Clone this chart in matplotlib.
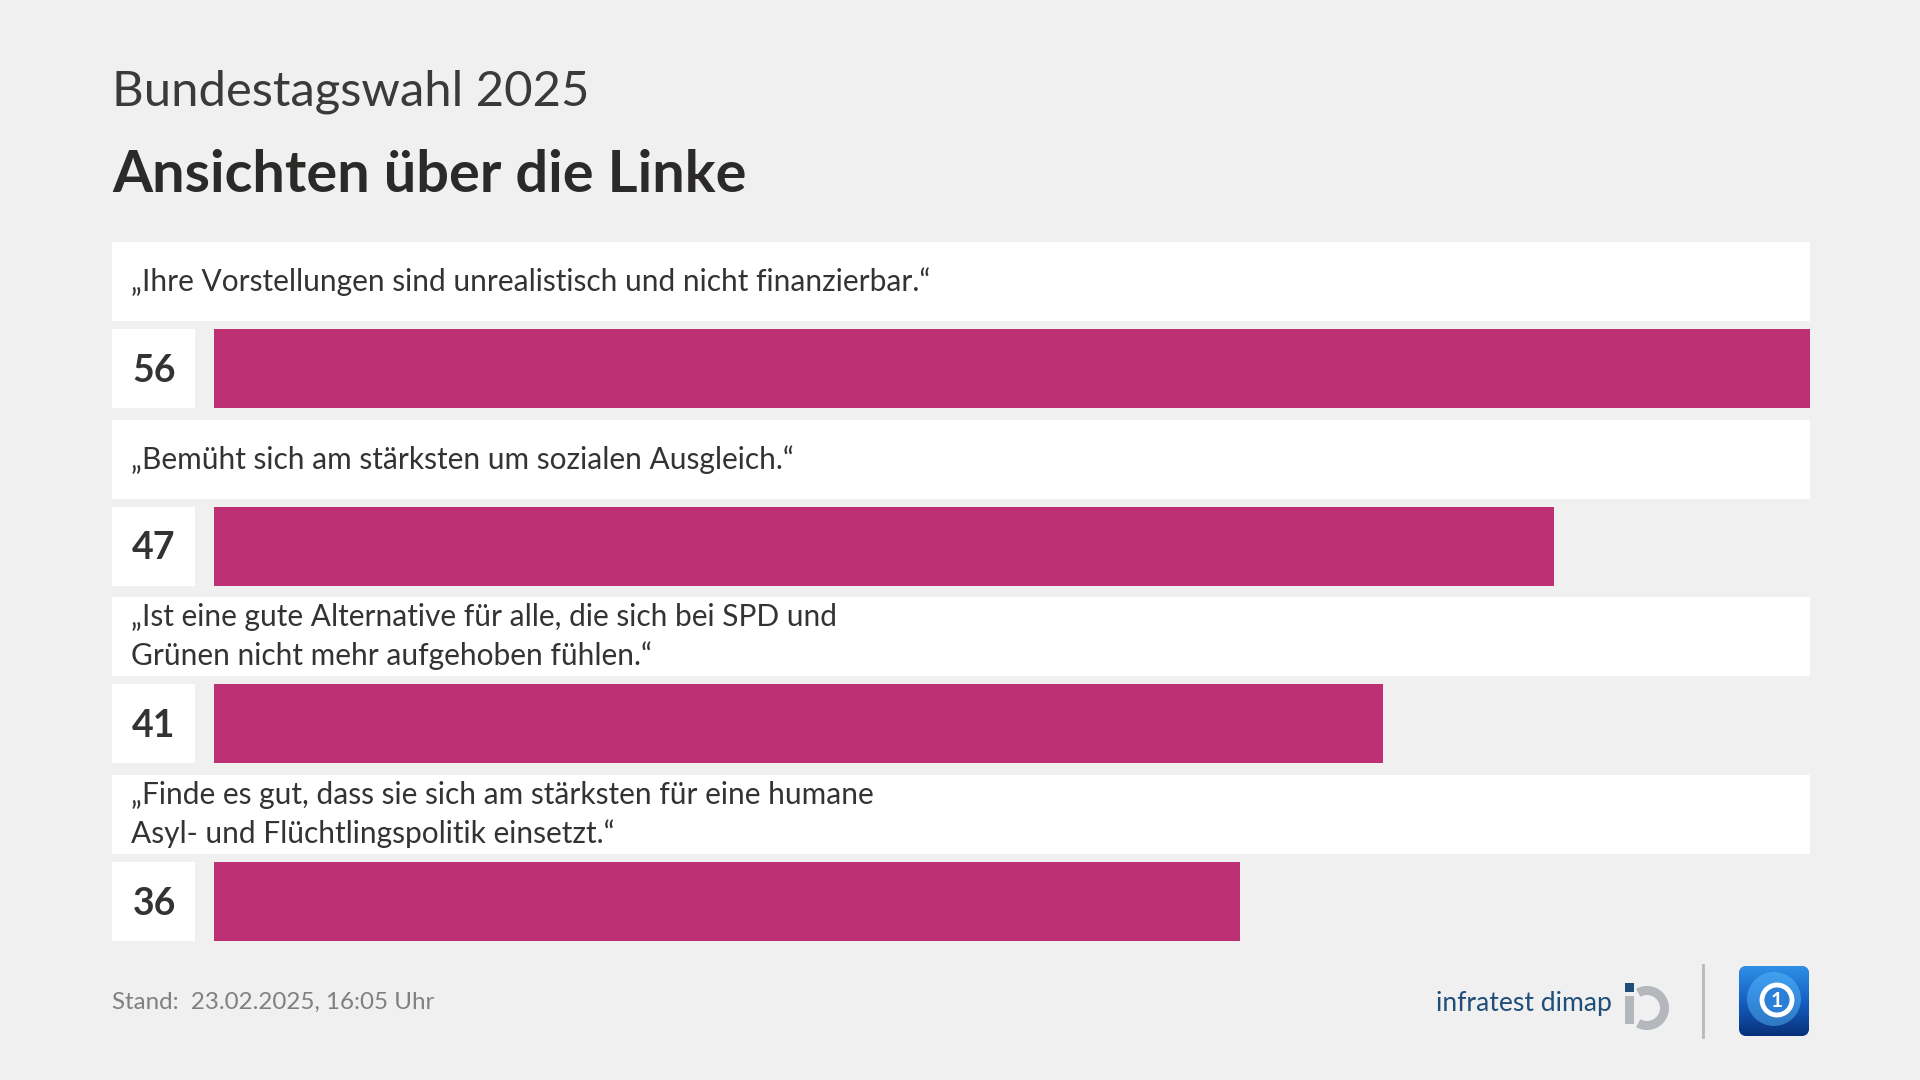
import numpy as np
import matplotlib
matplotlib.use("Agg")
import matplotlib.pyplot as plt
from matplotlib.colors import LinearSegmentedColormap
from matplotlib.patches import Rectangle, FancyBboxPatch, Wedge, Circle

# chart content
title = "Ansichten über die Linke"
subtitle = "Bundestagswahl 2025"
statements = [
    "„Ihre Vorstellungen sind unrealistisch und nicht finanzierbar.“",
    "„Bemüht sich am stärksten um sozialen Ausgleich.“",
    "„Ist eine gute Alternative für alle, die sich bei SPD und\nGrünen nicht mehr aufgehoben fühlen.“",
    "„Finde es gut, dass sie sich am stärksten für eine humane\nAsyl- und Flüchtlingspolitik einsetzt.“",
]
values = [56, 47, 41, 36]
stand = "Stand:  23.02.2025, 16:05 Uhr"
source = "infratest dimap"

BG = "#f0f0f0"
BAR = "#be3074"
TXT = "#333333"
FONT = "Lato"

W, H = 1920, 1080
fig = plt.figure(figsize=(W / 100, H / 100), dpi=100, facecolor=BG)

# full-figure axes in pixel units for boxes and text
base = fig.add_axes([0, 0, 1, 1])
base.set_xlim(0, W)
base.set_ylim(H, 0)
base.axis("off")

renderer = fig.canvas.get_renderer()


def fit_size(txt, width_px, **kw):
    t = fig.text(0, 0, txt, fontsize=20, family=FONT, **kw)
    w = t.get_window_extent(renderer=renderer).width
    t.remove()
    return 20 * width_px / w


left = 112
right = 1810
pitch = 177.7
row_h = 79
label_top = 242
bar_top = 329
bar_x0 = 214

# header
base.text(left, 106, subtitle, family=FONT, weight="normal", color="#3a3a3a",
          fontsize=fit_size(subtitle, 478), va="baseline")
base.text(left, 192, title, family=FONT, weight="bold", color="#2b2a29",
          fontsize=fit_size(title, 636, weight="bold"), va="baseline")

lab_fs = fit_size(statements[0], 802)

for i, (s, v) in enumerate(zip(statements, values)):
    ty = label_top + pitch * i
    by = bar_top + pitch * i
    base.add_patch(Rectangle((left, ty), right - left, row_h, facecolor="white", edgecolor="none"))
    base.add_patch(Rectangle((left, by), 195 - left, row_h, facecolor="white", edgecolor="none"))
    lines = s.split("\n")
    cy = ty + row_h / 2
    if len(lines) == 1:
        base.text(131, cy + 9.5, lines[0], family=FONT, fontsize=lab_fs, color=TXT, va="baseline")
    else:
        base.text(131, cy - 11, lines[0], family=FONT, fontsize=lab_fs, color=TXT, va="baseline")
        base.text(131, cy + 28, lines[1], family=FONT, fontsize=lab_fs, color=TXT, va="baseline")
    base.text(154, by + row_h / 2 + 13, str(v), family=FONT, weight="bold", fontsize=27,
              color=TXT, ha="center", va="baseline")

# bar axes: 0 -> x=214 px, 56 -> x=1810 px
ax_top = bar_top + row_h / 2 - pitch / 2
ax_bot = bar_top + row_h / 2 + 3.5 * pitch
ax = fig.add_axes([bar_x0 / W, 1 - ax_bot / H, (right - bar_x0) / W, (ax_bot - ax_top) / H])
ax.set_facecolor("none")
ax.barh(range(len(values)), values, height=row_h / pitch, color=BAR, left=0)
ax.set_xlim(0, 56)
ax.set_ylim(len(values) - 0.5, -0.5)
ax.axis("off")

# footer
base.text(left, 1009, stand, family=FONT, color="#808080",
          fontsize=fit_size(stand, 322), va="baseline")
base.text(1436, 1011, source, family=FONT, color="#1f4e79",
          fontsize=fit_size(source, 176), va="baseline")

# infratest dimap mark
base.add_patch(Rectangle((1625, 983), 9, 9, facecolor="#1f4e79", edgecolor="none"))
base.add_patch(Rectangle((1625, 996), 9, 28, facecolor="#b4b8bc", edgecolor="none"))
base.add_patch(Wedge((1647, 1008), 22, -120, 120, width=9, facecolor="#b4b8bc", edgecolor="none"))

# separator
base.plot([1703, 1703], [965, 1037], color="#b8b8b8", lw=2)

# tagesschau-like logo
box = FancyBboxPatch((1739, 966), 70, 70, boxstyle="round,pad=0,rounding_size=8",
                     facecolor="#0b4fa8", edgecolor="none")
base.add_patch(box)
grad = np.linspace(0, 1, 100).reshape(-1, 1)
cmap = LinearSegmentedColormap.from_list("ts", ["#2f8fe6", "#1660c4", "#08307a"])
img = base.imshow(grad, extent=(1739, 1809, 1036, 966), cmap=cmap, origin="upper",
                  aspect="auto", zorder=3)
img.set_clip_path(box)
base.set_xlim(0, W)
base.set_ylim(H, 0)
globe = Circle((1774, 999), 27, facecolor="#5cc0ff", edgecolor="none", alpha=0.45, zorder=4)
base.add_patch(globe)
globe.set_clip_path(box)
base.add_patch(Circle((1777, 1000), 15, facecolor="#2a7fd6", edgecolor="white", lw=3.5, zorder=5))
base.text(1777, 1001, "1", family=FONT, weight="bold", color="white", fontsize=15,
          ha="center", va="center", zorder=6)

fig.savefig("out.png", dpi=100, facecolor=BG)
